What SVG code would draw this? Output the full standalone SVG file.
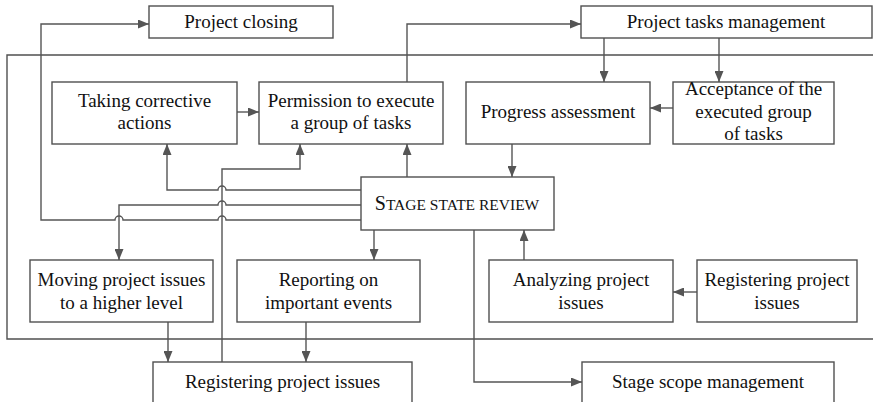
<svg xmlns="http://www.w3.org/2000/svg" width="873" height="402" viewBox="0 0 873 402">
<style>
.box{fill:#fff;stroke:#505050;stroke-width:1.4}
.frame{fill:none;stroke:#505050;stroke-width:1.4}
.c{fill:none;stroke:#555;stroke-width:1.4}
text{font-family:"Liberation Serif","Times New Roman",serif;font-size:19px;fill:#111;text-anchor:middle}
</style>
<defs>
<marker id="ah" markerUnits="userSpaceOnUse" markerWidth="11" markerHeight="9" refX="11" refY="4.5" orient="auto">
<path d="M0,0 L11,4.5 L0,9 z" fill="#555"/>
</marker>
</defs>
<rect width="873" height="402" fill="#fff"/>
<g id="frame"><path class="frame" d="M876 55 H7 V339 H876"/></g>
<g id="connectors">
<path class="c" marker-end="url(#ah)" d="M361 220 H226 A4 4 0 0 0 218 220 H123 A4 4 0 0 0 115 220 H41 V24 H149"/>
<path class="c" marker-end="url(#ah)" d="M361 190 H226 A4 4 0 0 0 218 190 H167 V144"/>
<path class="c" marker-end="url(#ah)" d="M361 205 H226 A4 4 0 0 0 218 205 H119 V260"/>
<path class="c" marker-end="url(#ah)" d="M222 362 V169 H300 V144"/>
<path class="c" marker-end="url(#ah)" d="M237 112 H259"/>
<path class="c" marker-end="url(#ah)" d="M407 82 V24 H581"/>
<path class="c" marker-end="url(#ah)" d="M604 38 V82"/>
<path class="c" marker-end="url(#ah)" d="M719 38 V82"/>
<path class="c" marker-end="url(#ah)" d="M673 108 H650"/>
<path class="c" marker-end="url(#ah)" d="M512 144 V177"/>
<path class="c" marker-end="url(#ah)" d="M407 177 V144"/>
<path class="c" marker-end="url(#ah)" d="M374 230 V260"/>
<path class="c" marker-end="url(#ah)" d="M524 260 V230"/>
<path class="c" marker-end="url(#ah)" d="M697 292 H673"/>
<path class="c" marker-end="url(#ah)" d="M474 230 V382 H582"/>
<path class="c" marker-end="url(#ah)" d="M168 322 V362"/>
<path class="c" marker-end="url(#ah)" d="M306 322 V362"/>
</g>
<g id="project-closing"><rect class="box" x="149" y="6" width="184" height="32"/><text x="241" y="28">Project closing</text></g>
<g id="project-tasks-management"><rect class="box" x="581" y="6" width="291" height="32"/><text x="726" y="28">Project tasks management</text></g>
<g id="taking-corrective-actions"><rect class="box" x="52" y="82" width="185" height="62"/><text x="144.5" y="107">Taking corrective</text><text x="144.5" y="129">actions</text></g>
<g id="permission"><rect class="box" x="259" y="82" width="184" height="62"/><text x="351" y="107">Permission to execute</text><text x="351" y="129">a group of tasks</text></g>
<g id="progress-assessment"><rect class="box" x="466" y="82" width="184" height="62"/><text x="558" y="118">Progress assessment</text></g>
<g id="acceptance"><rect class="box" x="673" y="82" width="161" height="62"/><text x="753.5" y="95">Acceptance of the</text><text x="753.5" y="118">executed group</text><text x="753.5" y="140">of tasks</text></g>
<g id="stage-state-review"><rect class="box" x="361" y="177" width="193" height="53"/><text x="457" y="210"><tspan font-size="20">S</tspan><tspan font-size="15.5">TAGE STATE REVIEW</tspan></text></g>
<g id="moving-project-issues"><rect class="box" x="30" y="260" width="183" height="62"/><text x="121.5" y="286">Moving project issues</text><text x="121.5" y="309">to a higher level</text></g>
<g id="reporting"><rect class="box" x="237" y="260" width="183" height="62"/><text x="328.5" y="286">Reporting on</text><text x="328.5" y="309">important events</text></g>
<g id="analyzing"><rect class="box" x="489" y="260" width="184" height="62"/><text x="581" y="286">Analyzing project</text><text x="581" y="309">issues</text></g>
<g id="registering-right"><rect class="box" x="697" y="260" width="160" height="62"/><text x="777" y="286">Registering project</text><text x="777" y="309">issues</text></g>
<g id="registering-bottom"><rect class="box" x="153" y="362" width="259" height="50"/><text x="282.5" y="388">Registering project issues</text></g>
<g id="stage-scope-management"><rect class="box" x="582" y="362" width="252" height="50"/><text x="708" y="388">Stage scope management</text></g>
</svg>
